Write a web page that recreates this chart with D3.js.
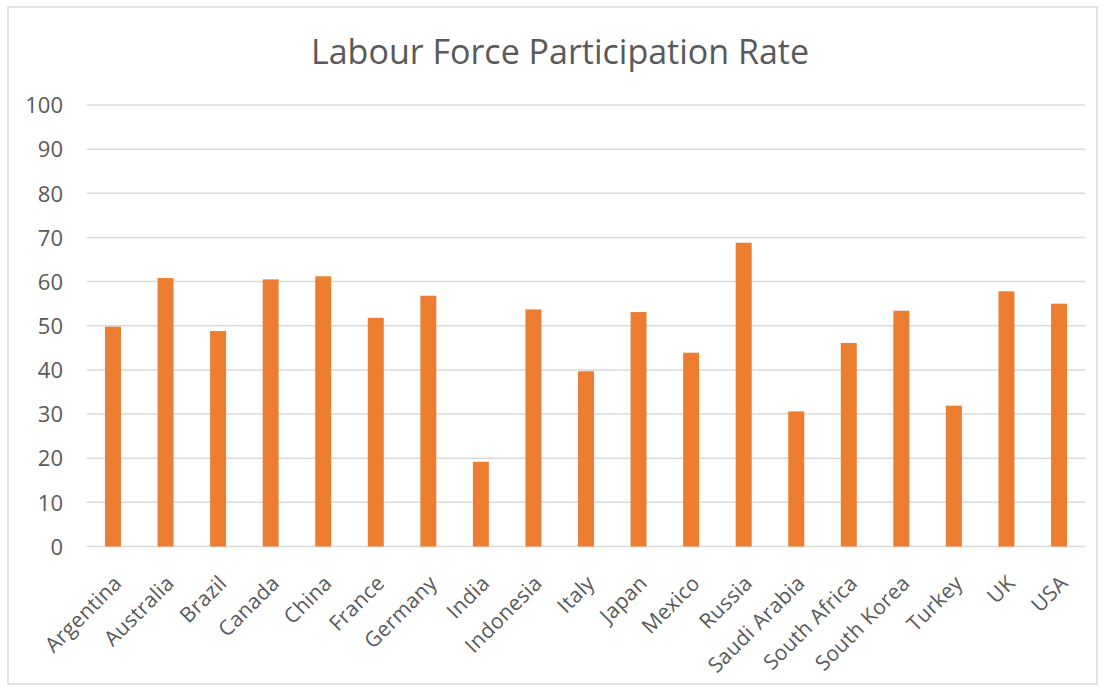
<!DOCTYPE html>
<html>
<head>
<meta charset="utf-8">
<script src="https://cdn.jsdelivr.net/npm/d3@7"></script>
<style>
  html, body { margin: 0; padding: 0; background: #fff; }
  svg { display: block; }
</style>
</head>
<body>
<svg id="chart" width="1102" height="688"></svg>
<script>
const title = "Labour Force Participation Rate";
const countries = ["Argentina","Australia","Brazil","Canada","China","France","Germany","India","Indonesia","Italy","Japan","Mexico","Russia","Saudi Arabia","South Africa","South Korea","Turkey","UK","USA"];
const rates = [49.8, 60.8, 48.8, 60.5, 61.2, 51.8, 56.8, 19.2, 53.7, 39.7, 53.1, 43.9, 68.8, 30.6, 46.1, 53.4, 31.9, 57.8, 55.0];
const yTicks = [0,10,20,30,40,50,60,70,80,90,100];

const svg = d3.select("#chart");
const font = "'Open Sans', 'DejaVu Sans', sans-serif";
const textColor = "#595959";

// outer border
svg.append("rect")
  .attr("x", 8).attr("y", 7).attr("width", 1089).attr("height", 677)
  .attr("fill", "#fff").attr("stroke", "#d9d9d9").attr("stroke-width", 1.5);

const x = d3.scaleBand().domain(countries).range([86.7, 1085.3])
  .paddingInner(0.696).paddingOuter(0.348);
const y = d3.scaleLinear().domain([0, 100]).range([546.5, 105]);

// gridlines
svg.append("g").selectAll("line").data(yTicks).join("line")
  .attr("x1", 86.7).attr("x2", 1085.3)
  .attr("y1", d => y(d)).attr("y2", d => y(d))
  .attr("stroke", "#d9d9d9").attr("stroke-width", 1.5);

// y axis labels
const yAxis = d3.axisLeft(y).tickValues(yTicks).tickSize(0).tickPadding(0);
const gy = svg.append("g").attr("transform", "translate(63,0)").call(yAxis);
gy.select(".domain").remove();
gy.selectAll("text")
  .attr("font-family", font).attr("font-size", 22).attr("fill", textColor)
  .attr("dy", "0.35em");

// bars
svg.append("g").selectAll("rect").data(countries).join("rect")
  .attr("x", d => x(d)).attr("width", x.bandwidth())
  .attr("y", (d, i) => y(rates[i]))
  .attr("height", (d, i) => y(0) - y(rates[i]))
  .attr("fill", "#ed7d31");

// x axis labels
const xAxis = d3.axisBottom(x).tickSize(0).tickPadding(0);
const gx = svg.append("g").attr("transform", "translate(0,546.5)").call(xAxis);
gx.select(".domain").remove();
gx.selectAll("text")
  .attr("font-family", font).attr("font-size", 21).attr("fill", textColor)
  .attr("letter-spacing", "0.3px")
  .attr("text-anchor", "end")
  .attr("y", 0).attr("dy", 0)
  .attr("transform", d => `translate(${x.bandwidth()/2 + 2},38) rotate(-45)`);

// title
svg.append("text")
  .attr("x", 560).attr("y", 64)
  .attr("text-anchor", "middle")
  .attr("font-family", font).attr("font-size", 34).attr("fill", textColor)
  .text(title);
</script>
</body>
</html>
